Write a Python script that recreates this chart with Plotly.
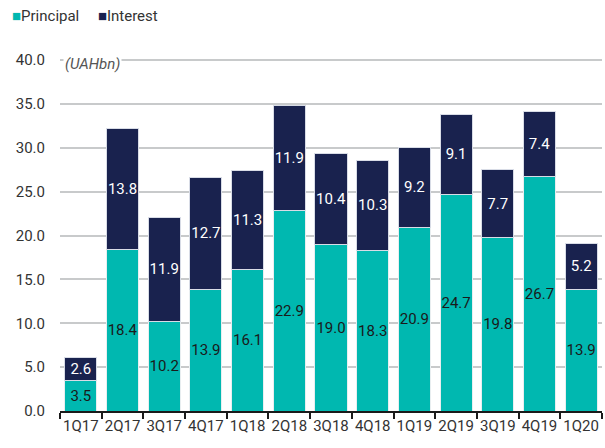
import plotly.graph_objects as go

categories = ["1Q17", "2Q17", "3Q17", "4Q17", "1Q18", "2Q18", "3Q18", "4Q18",
              "1Q19", "2Q19", "3Q19", "4Q19", "1Q20"]
principal = [3.5, 18.4, 10.2, 13.9, 16.1, 22.9, 19.0, 18.3, 20.9, 24.7, 19.8, 26.7, 13.9]
interest = [2.6, 13.8, 11.9, 12.7, 11.3, 11.9, 10.4, 10.3, 9.2, 9.1, 7.7, 7.4, 5.2]
y_ticks = [0, 5, 10, 15, 20, 25, 30, 35, 40]

FONT = "Roboto, Arial, sans-serif"
TEAL = "#00B8B0"
NAVY = "#19224E"

fig = go.Figure()
fig.add_trace(go.Bar(
    x=categories, y=principal, name="Principal",
    marker=dict(color=TEAL, line=dict(color="#e8eef0", width=1)),
    text=[f"{v:.1f}" for v in principal], textposition="inside",
    insidetextanchor="middle", textangle=0,
    textfont=dict(color="#1a1a1a", size=15, family=FONT),
))
fig.add_trace(go.Bar(
    x=categories, y=interest, name="Interest",
    marker=dict(color=NAVY, line=dict(color="#d8dce6", width=1)),
    text=[f"{v:.1f}" for v in interest], textposition="inside",
    insidetextanchor="middle", textangle=0,
    textfont=dict(color="white", size=15, family=FONT),
))

fig.update_layout(
    barmode="stack", bargap=0.23,
    width=605, height=448,
    margin=dict(l=60, r=3, t=58, b=37),
    paper_bgcolor="white", plot_bgcolor="white",
    font=dict(family=FONT, size=15, color="#333333"),
    uniformtext=dict(minsize=15, mode="show"),
    showlegend=False,
)
fig.update_yaxes(
    range=[0, 40.25], tickvals=y_ticks, ticktext=[f"{v:.1f}" for v in y_ticks],
    showgrid=True, gridcolor="#c8cacb", gridwidth=2, zeroline=False,
    ticks="", showline=False, ticklabelstandoff=14,
    tickfont=dict(size=15, color="#333333"),
)
fig.update_xaxes(
    showline=True, linecolor="#1a1a1a", linewidth=2, tickangle=0,
    ticks="outside", tickson="boundaries", ticklen=6, tickcolor="#1a1a1a", tickwidth=2,
    tickfont=dict(size=15, color="#333333"),
)
# legend drawn as text
fig.add_annotation(
    text=f"<span style='color:{TEAL}'>■</span>Principal     <span style='color:{NAVY}'>■</span>Interest",
    xref="paper", yref="paper", x=-0.092, y=1.12, xanchor="left", yanchor="middle",
    showarrow=False, font=dict(size=15, color="#333333", family=FONT),
)
fig.add_annotation(
    text="<i>(UAHbn)</i>", xref="paper", yref="y", x=0.005, y=40, xanchor="left",
    yanchor="middle", yshift=-4, showarrow=False, bgcolor="white",
    font=dict(size=15, color="#555555", family=FONT),
)
fig.write_html("out.html", config={"displayModeBar": False},
               post_script="document.body.style.margin='0';document.body.style.overflow='hidden';")
